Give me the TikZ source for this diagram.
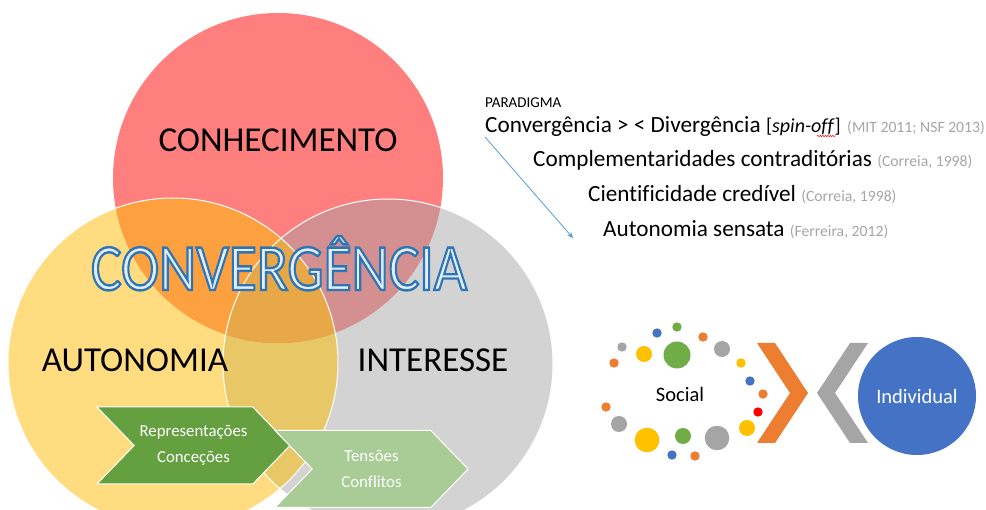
\documentclass[tikz,border=0pt]{standalone}
\usepackage{fontspec}
\usepackage{graphicx}
\setmainfont{Carlito}[Ligatures={NoCommon}]
\usetikzlibrary{
    positioning,
    shapes.symbols,
    arrows.meta,
    decorations.pathmorphing
}

\definecolor{conhRed}{HTML}{FF7F7F}
\definecolor{autoYellow}{HTML}{FFDC80}
\definecolor{interGrey}{HTML}{D3D3D3}
\definecolor{ryOrange}{HTML}{FCA040}
\definecolor{rgRose}{HTML}{D49090}
\definecolor{ygGold}{HTML}{E8C866}
\definecolor{allGold}{HTML}{E8A848}
\definecolor{wordFill}{HTML}{E4EEF9}
\definecolor{citeGrey}{HTML}{A6A6A6}
\definecolor{arrowBlue}{HTML}{5B9BD5}
\definecolor{dotGreen}{HTML}{70AD47}
\definecolor{dotBlue}{HTML}{4472C4}
\definecolor{dotOrange}{HTML}{ED7D31}
\definecolor{dotGrey}{HTML}{A5A5A5}
\definecolor{dotYellow}{HTML}{FFC000}
\definecolor{chevDark}{HTML}{64A040}
\definecolor{chevLight}{HTML}{A9CB96}

\newcommand{\refcite}[1]{{\fontsize{15.7}{18}\selectfont\color{citeGrey}#1}}
\newcommand{\outlineword}[1]{\special{pdf:literal 2 Tr 2.4 w 0.180 0.459 0.714 RG}#1\special{pdf:literal 0 Tr}}

\begin{document}
\begin{tikzpicture}[x=1pt, y=-1pt,
    vennlabel/.style={anchor=base, inner sep=0pt, font=\fontsize{35}{40}\selectfont},
    paraline/.style={anchor=base west, inner sep=0pt, font=\fontsize{23.2}{28}\selectfont},
    chevbox/.style={signal, signal to=east, signal from=west, signal pointer angle=92,
        draw=white, line width=1pt, minimum width=193pt, minimum height=77pt,
        inner sep=0pt, text=white, align=center, font=\fontsize{16.8}{26}\selectfont},
    vennring/.style={white, line width=1pt}]
    \fill[white] (0,0) rectangle (986,510);
    \useasboundingbox (0,0) rectangle (986,510);
    \clip (0,0) rectangle (986,510);

    % venn
    \coordinate (cRed) at (278,178);
    \coordinate (cYel) at (173,363);
    \coordinate (cGry) at (388,364);
    \fill[conhRed] (cRed) circle[radius=165pt];
    \fill[autoYellow] (cYel) circle[radius=165pt];
    \fill[interGrey] (cGry) circle[radius=165pt];
    \begin{scope}
        \clip (cYel) circle[radius=165pt];
        \fill[ygGold] (cGry) circle[radius=165pt];
    \end{scope}
    \begin{scope}
        \clip (cRed) circle[radius=165pt];
        \fill[ryOrange] (cYel) circle[radius=165pt];
        \fill[rgRose] (cGry) circle[radius=165pt];
        \clip (cYel) circle[radius=165pt];
        \fill[allGold] (cGry) circle[radius=165pt];
    \end{scope}
    \draw[vennring] (cYel) circle[radius=165pt] (cGry) circle[radius=165pt];

    \node[vennlabel] (conh) at (278,152) {CONHECIMENTO};
    \node[vennlabel] (auto) at (135,372) {AUTONOMIA};
    \node[vennlabel] (inter) at (433,372) {INTERESSE};
    \node[anchor=base, inner sep=0pt] (convword) at (279,290)
        {\scalebox{0.87}[1]{\fontsize{66}{70}\selectfont\color{wordFill}\outlineword{CONVERGÊNCIA}}};

    % chevrons
    \node[chevbox, fill=chevDark] (repr) at (193.5,445.5) {Representações\\Conceções};
    \node[chevbox, fill=chevLight] (tens) at (371.5,469) {Tensões\\Conflitos};

    % paradigma
    \node[paraline, font=\fontsize{15}{18}\selectfont] (para) at (485,108) {PARADIGMA};
    \node[paraline] (convdiv) at (485,133) {Convergência > < Divergência};
    \node[paraline, font=\fontsize{20}{22}\selectfont, right=5pt of convdiv.base east, anchor=base west] (spinoff) {[\textit{spin-off}]};
    \node[paraline, font=\fontsize{15.7}{18}\selectfont, text=citeGrey, right=6pt of spinoff.base east, anchor=base west] (mitnsf) {(MIT 2011; NSF 2013)};
    \draw[red, line width=0.5pt, decorate, decoration={snake, amplitude=0.7pt, segment length=2.5pt}]
        ([xshift=-24pt, yshift=-3pt]spinoff.base east) -- ([xshift=-5pt, yshift=-3pt]spinoff.base east);
    \node[paraline] (compl) at (533,167) {Complementaridades contraditórias \refcite{(Correia, 1998)}};
    \node[paraline] (cient) at (588,202) {Cientificidade credível \refcite{(Correia, 1998)}};
    \node[paraline] (sensata) at (603,237) {Autonomia sensata \refcite{(Ferreira, 2012)}};
    \coordinate (arrowfrom) at (485,137);
    \coordinate (arrowto) at (573,238);
    \draw[arrowBlue, line width=0.8pt, -{Stealth[length=6pt, width=5pt]}] (arrowfrom) -- (arrowto);

    % social / individual
    \foreach \x/\y/\r/\c in {677/327/4.7/dotGreen, 657/333/4.7/dotBlue, 703/337/4.7/dotOrange,
        622/347/4.7/dotGrey, 644/354/8/dotYellow, 677/355/13.5/dotGreen, 722/349/8/dotGrey,
        614/363/4.7/dotOrange, 741/363/4.7/dotYellow, 750/381/4.7/dotBlue, 763/394/4.7/dotOrange,
        758/412/4.7/red, 747/428/8/dotYellow, 606/407/4.7/dotOrange, 619/424/8/dotGrey,
        647/440/12.3/dotYellow, 683/436/8/dotGreen, 717/438/12.3/dotGrey, 672/455/4.7/dotBlue,
        695/456/4.7/dotOrange}
        \fill[\c] (\x,\y) circle[radius=\r pt];
    \node[font=\fontsize{20.5}{24}\selectfont] (social) at (680,394) {Social};
    \fill[dotOrange] (757,343) -- (775,343) -- (808,393) -- (775,443) -- (757,443) -- (790,393) -- cycle;
    \fill[dotGrey] (868,343) -- (850,343) -- (817,393) -- (850,443) -- (868,443) -- (835,393) -- cycle;
    \node[circle, fill=dotBlue, minimum size=118pt, text=white, font=\fontsize{20.5}{24}\selectfont] (indiv) at (917,396) {Individual};
\end{tikzpicture}
\end{document}
